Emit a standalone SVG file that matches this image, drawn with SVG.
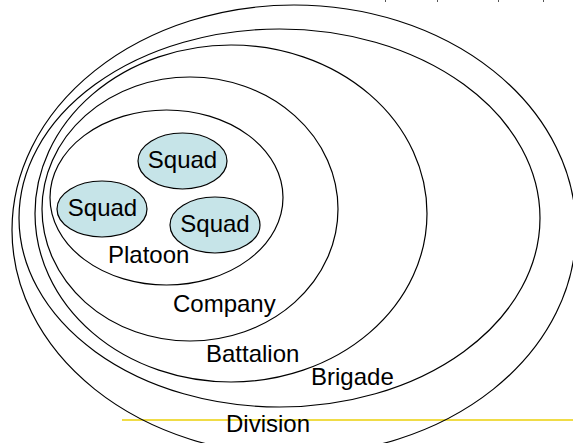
<svg xmlns="http://www.w3.org/2000/svg" width="573" height="443" viewBox="0 0 573 443">
  <style>
    .ring { fill: none; stroke: #000; stroke-width: 1.2; }
    .squad { fill: #c6e4e8; stroke: #000; stroke-width: 1.2; }
    .label { font-family: "Liberation Sans", Arial, sans-serif; font-size: 24px; fill: #000; }
    .mid { text-anchor: middle; }
    .tick { stroke: #555; stroke-width: 1; }
    .rule { stroke: #f0dc46; stroke-width: 2; }
  </style>
  <rect width="573" height="443" fill="#fff"/>

  <!-- ruler ticks along the top edge -->
  <g id="ticks">
    <line class="tick" x1="385.5" y1="0" x2="385.5" y2="2"/>
    <line class="tick" x1="437.5" y1="0" x2="437.5" y2="2"/>
    <line class="tick" x1="498.5" y1="0" x2="498.5" y2="2"/>
    <line class="tick" x1="543.5" y1="0" x2="543.5" y2="2"/>
  </g>

  <!-- yellow guide line near the bottom -->
  <line class="rule" x1="122" y1="420" x2="573" y2="420"/>

  <g id="division">
    <ellipse class="ring" cx="294" cy="230" rx="282" ry="225"/>
    <text class="label" x="226" y="432">Division</text>
  </g>
  <g id="brigade">
    <ellipse class="ring" cx="279.5" cy="218" rx="260.5" ry="189"/>
    <text class="label" x="311" y="385">Brigade</text>
  </g>
  <g id="battalion">
    <ellipse class="ring" cx="231" cy="213.5" rx="196" ry="168.5"/>
    <text class="label" x="206" y="362">Battalion</text>
  </g>
  <g id="company">
    <ellipse class="ring" cx="190" cy="209" rx="148" ry="132"/>
    <text class="label" x="173" y="312">Company</text>
  </g>
  <g id="platoon">
    <ellipse class="ring" cx="166.5" cy="197.5" rx="116.5" ry="87.5"/>
    <text class="label" x="108" y="263">Platoon</text>
  </g>

  <g id="squad-top">
    <ellipse class="squad" cx="182.5" cy="161" rx="44.5" ry="28"/>
    <text class="label mid" x="182.5" y="168">Squad</text>
  </g>
  <g id="squad-left">
    <ellipse class="squad" cx="102" cy="209" rx="45" ry="28"/>
    <text class="label mid" x="102.5" y="216">Squad</text>
  </g>
  <g id="squad-right">
    <ellipse class="squad" cx="215" cy="225" rx="45" ry="28"/>
    <text class="label mid" x="215" y="232">Squad</text>
  </g>
</svg>
